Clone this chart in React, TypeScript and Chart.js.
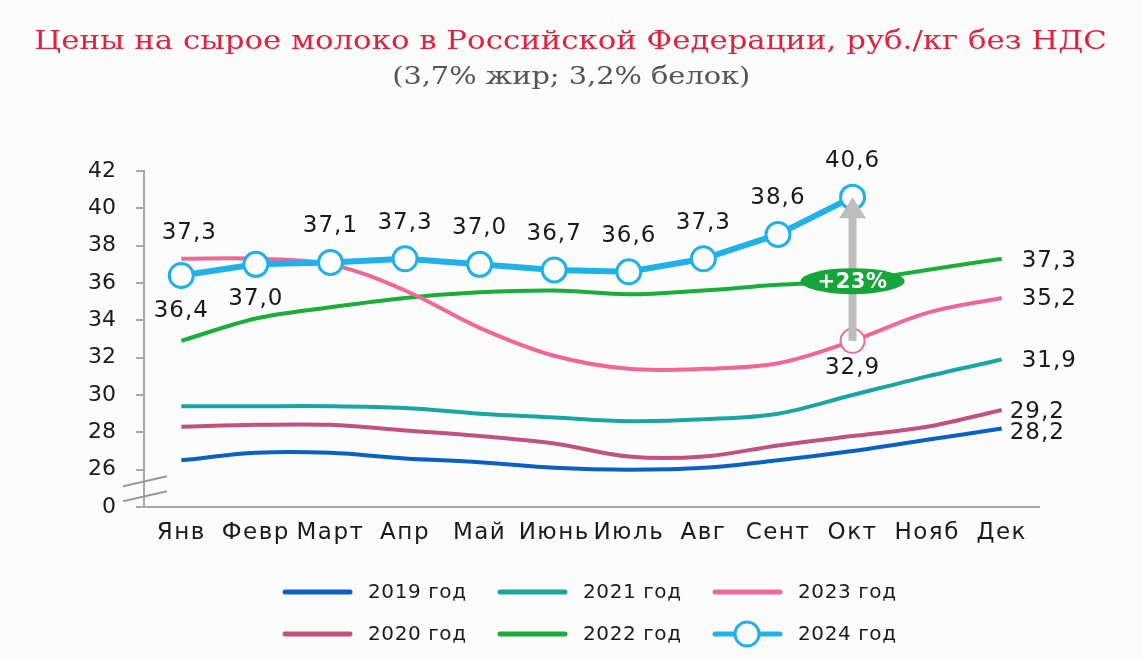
import { useEffect, useRef } from 'react';
import { Chart, registerables, CategoryScale } from 'chart.js';

Chart.register(...registerables);

class WideCategoryScale extends CategoryScale {
  static id = 'wideCategory';
  static defaults = { ...(CategoryScale as any).defaults };
  drawLabels(area: any) {
    const ctx: any = (this as any).ctx;
    ctx.save();
    ctx.letterSpacing = '1.5px';
    super.drawLabels(area);
    ctx.restore();
  }
}
Chart.register(WideCategoryScale as any);

const months = ['Янв', 'Февр', 'Март', 'Апр', 'Май', 'Июнь', 'Июль', 'Авг', 'Сент', 'Окт', 'Нояб', 'Дек'];
const y2019 = [26.5, 26.9, 26.9, 26.6, 26.4, 26.1, 26.0, 26.1, 26.5, 27.0, 27.6, 28.2];
const y2020 = [28.3, 28.4, 28.4, 28.1, 27.8, 27.4, 26.7, 26.7, 27.3, 27.8, 28.3, 29.2];
const y2021 = [29.4, 29.4, 29.4, 29.3, 29.0, 28.8, 28.6, 28.7, 29.0, 30.0, 31.0, 31.9];
const y2022 = [32.9, 34.1, 34.7, 35.2, 35.5, 35.6, 35.4, 35.6, 35.9, 36.1, 36.7, 37.3];
const y2023 = [37.3, 37.3, 37.0, 35.6, 33.6, 32.1, 31.4, 31.4, 31.7, 32.9, 34.4, 35.2];
const y2024 = [36.4, 37.0, 37.1, 37.3, 37.0, 36.7, 36.6, 37.3, 38.6, 40.6, null, null];
const seriesNames = ['2019 год', '2020 год', '2021 год', '2022 год', '2023 год', '2024 год'];

const yMin = 24; // shown as "0" behind the axis break
const yMax = 42;
const yStep = 2;
const breakLabel = '0';

const titleText = 'Цены на сырое молоко в Российской Федерации, руб./кг без НДС';
const subtitleText = '(3,7% жир; 3,2% белок)';

const COLORS = {
  c2019: '#0b60c6',
  c2020: '#c0527c',
  c2021: '#1aa5a5',
  c2022: '#1bad3a',
  c2023: '#f06794',
  c2024: '#1fb1ea',
};

const FONT = 'DejaVu Sans';

const fmt = (v: number) => v.toFixed(1).replace('.', ',');

const overlayPlugin = {
  id: 'overlay',
  afterDatasetsDraw(chart: any) {
    const { ctx } = chart;
    const ds = chart.data.datasets;
    const idx = (name: string) => ds.findIndex((d: any) => d.label === name);
    const i23 = idx('2023 год');
    const i24 = idx('2024 год');
    const i22 = idx('2022 год');
    const k = 9; // October
    const pFrom = chart.getDatasetMeta(i23).data[k];
    const pTo = chart.getDatasetMeta(i24).data[k];
    const pBadge = chart.getDatasetMeta(i22).data[k];
    ctx.save();
    // arrow
    ctx.fillStyle = '#bdbdbd';
    const shaftW = 8;
    const headH = 21;
    const headW = 27;
    ctx.fillRect(pTo.x - shaftW / 2, pTo.y + headH - 1, shaftW, pFrom.y - pTo.y - headH + 1);
    ctx.beginPath();
    ctx.moveTo(pTo.x, pTo.y);
    ctx.lineTo(pTo.x + headW / 2, pTo.y + headH);
    ctx.lineTo(pTo.x - headW / 2, pTo.y + headH);
    ctx.closePath();
    ctx.fill();
    // badge
    ctx.fillStyle = '#16a53a';
    ctx.beginPath();
    ctx.ellipse(pTo.x, pBadge.y, 52, 13, 0, 0, Math.PI * 2);
    ctx.fill();
    const pct = Math.round((ds[i24].data[k] / ds[i23].data[k] - 1) * 100);
    ctx.fillStyle = '#ffffff';
    ctx.font = `bold 21px ${FONT}`;
    ctx.letterSpacing = '0.5px';
    ctx.textAlign = 'center';
    ctx.textBaseline = 'middle';
    ctx.fillText(`+${pct}%`, pTo.x, pBadge.y + 1);

    // value labels
    ctx.fillStyle = '#1a1a1a';
    ctx.font = `23px ${FONT}`;
    ctx.letterSpacing = '1px';
    ds.forEach((d: any, di: number) => {
      const meta = chart.getDatasetMeta(di);
      (d.valueLabels || []).forEach((l: any) => {
        const pt = meta.data[l.i];
        const v = d.data[l.i];
        if (v == null) return;
        ctx.textAlign = l.align || 'center';
        ctx.fillText(fmt(v), pt.x + (l.dx || 0), pt.y + (l.dy || 0));
      });
    });

    // axis break marks
    const yScale = chart.scales.y;
    const x0 = yScale.right;
    const yb = yScale.getPixelForValue(yMin + yStep * 0.5);
    ctx.strokeStyle = '#9a9a9a';
    ctx.lineWidth = 2;
    [-7, 8].forEach((off) => {
      ctx.beginPath();
      ctx.moveTo(x0 - 21, yb + off + 5);
      ctx.lineTo(x0 + 23, yb + off - 5);
      ctx.stroke();
    });

    // legend
    const cols = [285, 500, 715];
    const rows = [592, 634];
    ctx.font = `20px ${FONT}`;
    ctx.letterSpacing = '0.6px';
    ctx.textAlign = 'left';
    ctx.textBaseline = 'middle';
    seriesNames.forEach((name, n) => {
      const d = ds[idx(name)];
      const cx = cols[Math.floor(n / 2)];
      const cy = rows[n % 2];
      ctx.strokeStyle = d.borderColor;
      ctx.lineWidth = 5;
      ctx.lineCap = 'round';
      ctx.beginPath();
      ctx.moveTo(cx, cy);
      ctx.lineTo(cx + 65, cy);
      ctx.stroke();
      if (d.pointRadius === 12) {
        ctx.fillStyle = '#ffffff';
        ctx.lineWidth = 3;
        ctx.beginPath();
        ctx.arc(cx + 32, cy, 12, 0, Math.PI * 2);
        ctx.fill();
        ctx.stroke();
      }
      ctx.fillStyle = '#1a1a1a';
      ctx.fillText(name, cx + 83, cy + 1);
    });
    ctx.restore();
  },
};

export default function App() {
  const ref = useRef<HTMLCanvasElement | null>(null);

  useEffect(() => {
    if (!ref.current) return;
    const r2023 = y2023.map((_, i) => (i === 9 ? 12 : 0));
    const chart = new Chart(ref.current, {
      type: 'line',
      data: {
        labels: months,
        datasets: [
          {
            label: seriesNames[5], data: y2024, borderColor: COLORS.c2024, borderWidth: 6, tension: 0,
            pointRadius: 12, pointBorderWidth: 3, pointBackgroundColor: '#ffffff', pointBorderColor: COLORS.c2024,
            order: 0,
            valueLabels: y2024.map((_, i) => ({ i, dy: i < 2 ? 35 : -36 })),
          } as any,
          {
            label: seriesNames[4], data: y2023, borderColor: COLORS.c2023, borderWidth: 4, tension: 0.35,
            pointRadius: r2023, pointBorderWidth: 2, pointBackgroundColor: '#ffffff', pointBorderColor: COLORS.c2023,
            order: 1,
            valueLabels: [{ i: 0, dx: 8, dy: -26 }, { i: 9, dy: 27 }, { i: 11, dx: 20, dy: 1, align: 'left' }],
          } as any,
          {
            label: seriesNames[3], data: y2022, borderColor: COLORS.c2022, borderWidth: 4, tension: 0.35, pointRadius: 0,
            order: 2, valueLabels: [{ i: 11, dx: 20, dy: 2, align: 'left' }],
          } as any,
          {
            label: seriesNames[2], data: y2021, borderColor: COLORS.c2021, borderWidth: 4, tension: 0.35, pointRadius: 0,
            order: 3, valueLabels: [{ i: 11, dx: 20, dy: 1, align: 'left' }],
          } as any,
          {
            label: seriesNames[1], data: y2020, borderColor: COLORS.c2020, borderWidth: 4, tension: 0.35, pointRadius: 0,
            order: 4, valueLabels: [{ i: 11, dx: 8, dy: 2, align: 'left' }],
          } as any,
          {
            label: seriesNames[0], data: y2019, borderColor: COLORS.c2019, borderWidth: 4, tension: 0.35, pointRadius: 0,
            order: 5, valueLabels: [{ i: 11, dx: 8, dy: 4, align: 'left' }],
          } as any,
        ],
      },
      options: {
        responsive: false,
        animation: false,
        events: [],
        layout: { padding: { top: 171, right: 103, bottom: 112, left: 0 } },
        plugins: { legend: { display: false }, tooltip: { enabled: false }, title: { display: false } },
        scales: {
          x: {
            type: 'wideCategory',
            offset: true,
            grid: { display: false, drawTicks: false },
            border: { display: true, color: '#a8a8a8', width: 2 },
            ticks: { autoSkip: false, maxRotation: 0, padding: 12, color: '#1a1a1a', font: { family: FONT, size: 23 } },
            afterFit: (s: any) => { s.height = 40; },
          },
          y: {
            min: yMin,
            max: yMax,
            grid: { drawOnChartArea: false, drawTicks: true, tickLength: 8, color: '#a8a8a8', lineWidth: 2 },
            border: { display: true, color: '#a8a8a8', width: 2 },
            ticks: {
              stepSize: yStep, padding: 20, color: '#1a1a1a', font: { family: FONT, size: 22 },
              callback: (v: any) => (v === yMin ? breakLabel : String(v)),
            },
            afterFit: (s: any) => { s.width = 144; },
          },
        },
      },
      plugins: [overlayPlugin],
    } as any);
    return () => chart.destroy();
  }, []);

  return (
    <div style={{ position: 'fixed', left: 0, top: 0, width: 1142, height: 659, background: '#fdfcfc', overflow: 'hidden' }}>
      <canvas ref={ref} width={1142} height={659} style={{ position: 'absolute', left: 0, top: 0 }} />
      <div style={{ position: 'absolute', left: 0, top: 22, width: 1142, textAlign: 'center', fontFamily: 'DejaVu Serif', fontSize: 26, color: '#e3213c', lineHeight: '36px', whiteSpace: 'nowrap' }}>
        <span style={{ display: 'inline-block', transform: 'scaleX(1.185)' }}>{titleText}</span>
      </div>
      <div style={{ position: 'absolute', left: 0, top: 58, width: 1142, textAlign: 'center', fontFamily: 'DejaVu Serif', fontSize: 24, color: '#555555', lineHeight: '36px', whiteSpace: 'nowrap' }}>
        <span style={{ display: 'inline-block', transform: 'scaleX(1.2)' }}>{subtitleText}</span>
      </div>
    </div>
  );
}
